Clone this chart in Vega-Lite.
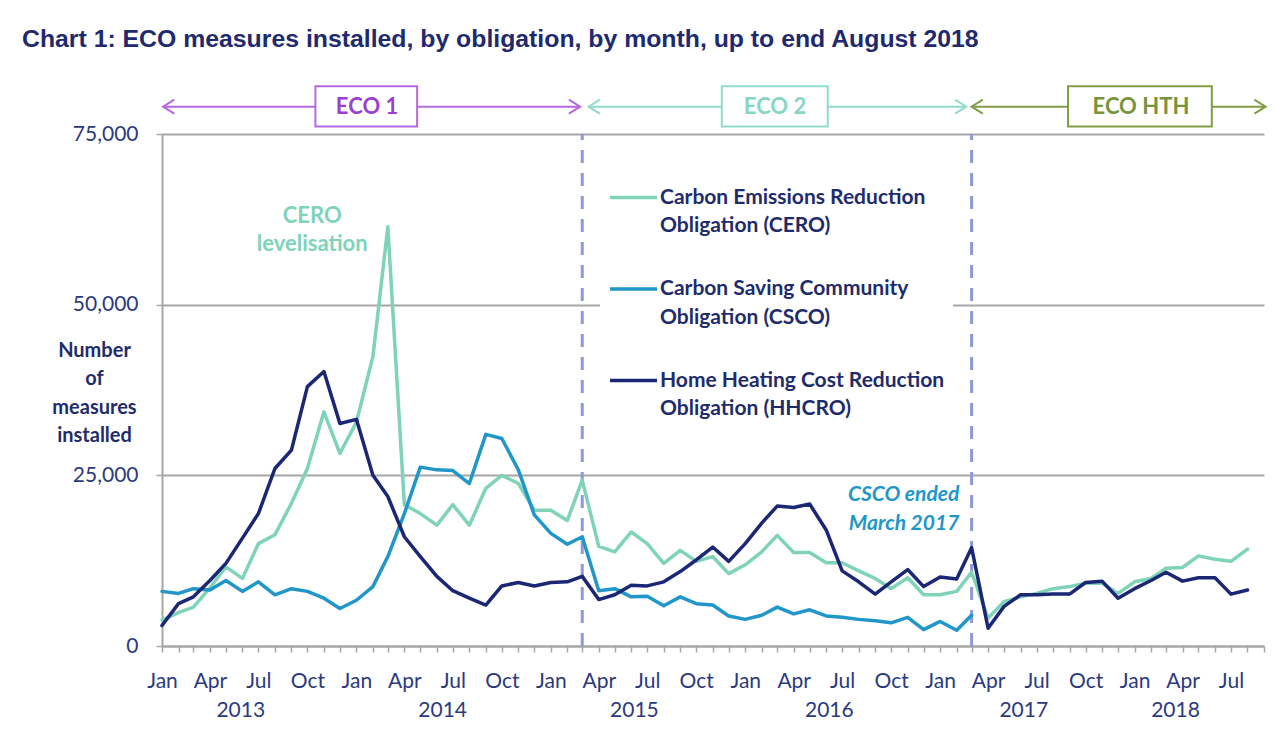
{
  "$schema": "https://vega.github.io/schema/vega-lite/v6.json",
  "width": 1102,
  "height": 512,
  "autosize": {"type": "none"},
  "padding": {"left": 162, "top": 134, "right": 10, "bottom": 101},
  "background": "white",
  "title": {
    "text": "Chart 1: ECO measures installed, by obligation, by month, up to end August 2018",
    "anchor": "start",
    "frame": "group",
    "dx": -140,
    "offset": 33,
    "font": "Liberation Sans Narrow, Liberation Sans",
    "fontSize": 24.8,
    "fontWeight": "bold",
    "color": "#1F2A6E"
  },
  "config": {
    "view": {"stroke": null},
    "font": "Lato",
    "style": {"guide-label": {"lineHeight": 28.5}}
  },
  "datasets": {
    "eco": [
      {"date": "2013-01-01", "CERO": 3800, "CSCO": 8000, "HHCRO": 3000},
      {"date": "2013-02-01", "CERO": 4900, "CSCO": 7700, "HHCRO": 6200},
      {"date": "2013-03-01", "CERO": 5700, "CSCO": 8400, "HHCRO": 7200},
      {"date": "2013-04-01", "CERO": 8500, "CSCO": 8200, "HHCRO": 9600},
      {"date": "2013-05-01", "CERO": 11600, "CSCO": 9600, "HHCRO": 12100},
      {"date": "2013-06-01", "CERO": 9900, "CSCO": 8000, "HHCRO": 15800},
      {"date": "2013-07-01", "CERO": 15000, "CSCO": 9400, "HHCRO": 19400},
      {"date": "2013-08-01", "CERO": 16300, "CSCO": 7500, "HHCRO": 26000},
      {"date": "2013-09-01", "CERO": 20900, "CSCO": 8400, "HHCRO": 28700},
      {"date": "2013-10-01", "CERO": 26000, "CSCO": 8000, "HHCRO": 38000},
      {"date": "2013-11-01", "CERO": 34300, "CSCO": 7000, "HHCRO": 40200},
      {"date": "2013-12-01", "CERO": 28200, "CSCO": 5500, "HHCRO": 32600},
      {"date": "2014-01-01", "CERO": 32800, "CSCO": 6700, "HHCRO": 33200},
      {"date": "2014-02-01", "CERO": 42400, "CSCO": 8700, "HHCRO": 25000},
      {"date": "2014-03-01", "CERO": 61400, "CSCO": 13100, "HHCRO": 21900},
      {"date": "2014-04-01", "CERO": 20700, "CSCO": 19400, "HHCRO": 16000},
      {"date": "2014-05-01", "CERO": 19400, "CSCO": 26200, "HHCRO": 13100},
      {"date": "2014-06-01", "CERO": 17700, "CSCO": 25800, "HHCRO": 10200},
      {"date": "2014-07-01", "CERO": 20700, "CSCO": 25700, "HHCRO": 8100},
      {"date": "2014-08-01", "CERO": 17700, "CSCO": 23800, "HHCRO": 7000},
      {"date": "2014-09-01", "CERO": 23100, "CSCO": 31000, "HHCRO": 6000},
      {"date": "2014-10-01", "CERO": 25000, "CSCO": 30400, "HHCRO": 8800},
      {"date": "2014-11-01", "CERO": 23800, "CSCO": 25800, "HHCRO": 9300},
      {"date": "2014-12-01", "CERO": 19900, "CSCO": 19200, "HHCRO": 8800},
      {"date": "2015-01-01", "CERO": 19900, "CSCO": 16500, "HHCRO": 9300},
      {"date": "2015-02-01", "CERO": 18400, "CSCO": 14900, "HHCRO": 9400},
      {"date": "2015-03-01", "CERO": 24300, "CSCO": 16000, "HHCRO": 10200},
      {"date": "2015-04-01", "CERO": 14600, "CSCO": 8100, "HHCRO": 6800},
      {"date": "2015-05-01", "CERO": 13800, "CSCO": 8400, "HHCRO": 7500},
      {"date": "2015-06-01", "CERO": 16700, "CSCO": 7200, "HHCRO": 8900},
      {"date": "2015-07-01", "CERO": 15000, "CSCO": 7300, "HHCRO": 8800},
      {"date": "2015-08-01", "CERO": 12100, "CSCO": 5900, "HHCRO": 9400},
      {"date": "2015-09-01", "CERO": 14000, "CSCO": 7200, "HHCRO": 10900},
      {"date": "2015-10-01", "CERO": 12400, "CSCO": 6200, "HHCRO": 12600},
      {"date": "2015-11-01", "CERO": 13100, "CSCO": 6000, "HHCRO": 14500},
      {"date": "2015-12-01", "CERO": 10600, "CSCO": 4400, "HHCRO": 12400},
      {"date": "2016-01-01", "CERO": 11900, "CSCO": 3900, "HHCRO": 15000},
      {"date": "2016-02-01", "CERO": 13800, "CSCO": 4500, "HHCRO": 18000},
      {"date": "2016-03-01", "CERO": 16200, "CSCO": 5700, "HHCRO": 20500},
      {"date": "2016-04-01", "CERO": 13700, "CSCO": 4700, "HHCRO": 20300},
      {"date": "2016-05-01", "CERO": 13700, "CSCO": 5300, "HHCRO": 20800},
      {"date": "2016-06-01", "CERO": 12200, "CSCO": 4400, "HHCRO": 17000},
      {"date": "2016-07-01", "CERO": 12200, "CSCO": 4200, "HHCRO": 11000},
      {"date": "2016-08-01", "CERO": 11000, "CSCO": 3900, "HHCRO": 9400},
      {"date": "2016-09-01", "CERO": 9900, "CSCO": 3700, "HHCRO": 7600},
      {"date": "2016-10-01", "CERO": 8400, "CSCO": 3400, "HHCRO": 9400},
      {"date": "2016-11-01", "CERO": 10000, "CSCO": 4200, "HHCRO": 11200},
      {"date": "2016-12-01", "CERO": 7500, "CSCO": 2400, "HHCRO": 8700},
      {"date": "2017-01-01", "CERO": 7500, "CSCO": 3600, "HHCRO": 10100},
      {"date": "2017-02-01", "CERO": 8000, "CSCO": 2300, "HHCRO": 9800},
      {"date": "2017-03-01", "CERO": 10800, "CSCO": 4500, "HHCRO": 14400},
      {"date": "2017-04-01", "CERO": 4100, "CSCO": null, "HHCRO": 2600},
      {"date": "2017-05-01", "CERO": 6500, "CSCO": null, "HHCRO": 5800},
      {"date": "2017-06-01", "CERO": 7200, "CSCO": null, "HHCRO": 7500},
      {"date": "2017-07-01", "CERO": 7700, "CSCO": null, "HHCRO": 7500},
      {"date": "2017-08-01", "CERO": 8400, "CSCO": null, "HHCRO": 7600},
      {"date": "2017-09-01", "CERO": 8700, "CSCO": null, "HHCRO": 7600},
      {"date": "2017-10-01", "CERO": 9200, "CSCO": null, "HHCRO": 9300},
      {"date": "2017-11-01", "CERO": 9200, "CSCO": null, "HHCRO": 9500},
      {"date": "2017-12-01", "CERO": 7700, "CSCO": null, "HHCRO": 7000},
      {"date": "2018-01-01", "CERO": 9400, "CSCO": null, "HHCRO": 8400},
      {"date": "2018-02-01", "CERO": 9900, "CSCO": null, "HHCRO": 9600},
      {"date": "2018-03-01", "CERO": 11400, "CSCO": null, "HHCRO": 10800},
      {"date": "2018-04-01", "CERO": 11500, "CSCO": null, "HHCRO": 9500},
      {"date": "2018-05-01", "CERO": 13200, "CSCO": null, "HHCRO": 10000},
      {"date": "2018-06-01", "CERO": 12700, "CSCO": null, "HHCRO": 10000},
      {"date": "2018-07-01", "CERO": 12400, "CSCO": null, "HHCRO": 7600},
      {"date": "2018-08-01", "CERO": 14200, "CSCO": null, "HHCRO": 8200}
    ],
    "periods": [
      {"period": "ECO 1", "start": "2013-01-03", "end": "2015-02-25", "boxStart": "2013-10-16", "boxEnd": "2014-04-25", "mid": "2014-01-21"},
      {"period": "ECO 2", "start": "2015-03-13", "end": "2017-02-19", "boxStart": "2015-11-18", "boxEnd": "2016-06-04", "mid": "2016-02-26"},
      {"period": "ECO HTH", "start": "2017-03-01", "end": "2018-09-04", "boxStart": "2017-08-29", "boxEnd": "2018-05-26", "mid": "2018-01-13"}
    ],
    "phaseLines": [
      {"date": "2015-03-01"},
      {"date": "2017-03-01"}
    ],
    "ceroNote": [
      {"date": "2013-10-10", "value": 63000, "note": "CERO\nlevelisation"}
    ],
    "cscoNote": [
      {"date": "2017-02-06", "value": 22100, "note": "CSCO ended\nMarch 2017"}
    ]
  },
  "layer": [
    {
      "data": {"name": "phaseLines"},
      "mark": {"type": "rule", "color": "#8E9AD8", "strokeWidth": 3, "strokeDash": [13, 10]},
      "encoding": {
        "x": {
          "field": "date", "type": "temporal",
          "axis": {
            "orient": "bottom",
            "values": [
              {"year": 2013, "month": 5, "date": 28, "utc": true},
              {"year": 2014, "month": 6, "date": 11, "utc": true},
              {"year": 2015, "month": 6, "date": 6, "utc": true},
              {"year": 2016, "month": 6, "date": 6, "utc": true},
              {"year": 2017, "month": 6, "date": 6, "utc": true},
              {"year": 2018, "month": 3, "date": 18, "utc": true}
            ],
            "labelExpr": "utcFormat(datum.value, '%Y')",
            "ticks": false, "domain": false, "grid": false, "title": null,
            "labelPadding": 53, "labelFont": "Lato", "labelFontSize": 21, "labelColor": "#2B3A7E",
            "labelOverlap": false, "labelBound": false, "labelFlush": false
          }
        },
        "y": {"datum": 0},
        "y2": {"datum": 75000}
      }
    },
    {
      "data": {"name": "eco"},
      "transform": [{"fold": ["CERO", "CSCO", "HHCRO"], "as": ["series", "value"]}],
      "mark": {"type": "line", "strokeWidth": 3.5, "strokeJoin": "round", "strokeCap": "round"},
      "encoding": {
        "x": {
          "field": "date", "type": "temporal",
          "scale": {"type": "utc", "nice": false, "domain": [{"year": 2013, "month": 1, "date": 1, "utc": true}, {"year": 2018, "month": 9, "date": 1, "utc": true}]},
          "axis": {
            "orient": "bottom",
            "tickCount": {"interval": "month", "step": 1},
            "labelExpr": "utcmonth(datum.value) % 3 == 0 ? utcFormat(datum.value, '%b') : ''",
            "labelOverlap": false, "labelBound": false, "labelFlush": false,
            "labelFont": "Lato", "labelFontSize": 21, "labelColor": "#2B3A7E", "labelPadding": 18,
            "tickColor": "#A6A6A6", "tickSize": 6, "tickWidth": 1.5,
            "domainColor": "#A6A6A6", "domainWidth": 2,
            "grid": false, "title": null
          }
        },
        "y": {
          "field": "value", "type": "quantitative",
          "scale": {"domain": [0, 75000], "nice": false},
          "axis": {
            "values": [0, 25000, 50000, 75000],
            "labelExpr": "format(datum.value, ',')",
            "labelFont": "Lato", "labelFontSize": 21, "labelColor": "#2B3A7E", "labelPadding": 18,
            "grid": true, "gridColor": "#A6A6A6", "gridWidth": 2,
            "domainColor": "#A6A6A6", "domainWidth": 2,
            "tickColor": "#A6A6A6", "tickSize": 6, "tickWidth": 1.5,
            "title": ["Number", "of", "measures", "installed"],
            "titleAngle": 0, "titleX": -68, "titleY": 216, "titleAlign": "center", "titleBaseline": "middle",
            "titleFont": "Lato", "titleFontSize": 20, "titleFontWeight": "bold", "titleColor": "#1F2C6B", "titleLineHeight": 28.5
          }
        },
        "color": {
          "field": "series", "type": "nominal",
          "scale": {"domain": ["CERO", "CSCO", "HHCRO"], "range": ["#7ED3B9", "#2196C9", "#1B2775"]},
          "legend": {
            "orient": "none", "legendX": 438, "legendY": 30,
            "title": null,
            "labelExpr": "datum.value == 'CERO' ? ['Carbon Emissions Reduction', 'Obligation (CERO)'] : datum.value == 'CSCO' ? ['Carbon Saving Community', 'Obligation (CSCO)'] : ['Home Heating Cost Reduction', 'Obligation (HHCRO)']",
            "symbolType": "stroke", "symbolSize": 2209, "symbolStrokeWidth": 3.5,
            "labelFont": "Lato", "labelFontSize": 21, "labelFontWeight": "bold", "labelColor": "#1F2C6B",
            "labelLimit": 500, "labelOffset": 1, "labelBaseline": "middle",
            "rowPadding": 27.5, "padding": 8, "fillColor": "white"
          }
        }
      }
    },
    {
      "data": {"name": "periods"},
      "mark": {"type": "rule", "strokeWidth": 2},
      "encoding": {
        "x": {"field": "start", "type": "temporal", "axis": null},
        "x2": {"field": "end"},
        "y": {"datum": 79000},
        "stroke": {"field": "period", "type": "nominal", "scale": {"domain": ["ECO 1", "ECO 2", "ECO HTH"], "range": ["#B36AE0", "#8FDCCB", "#7F9E45"]}, "legend": null}
      }
    },
    {
      "data": {"name": "periods"},
      "mark": {"type": "point", "shape": "M1.6,-1L0,0L1.6,1", "size": 196, "filled": false, "strokeWidth": 2, "opacity": 1},
      "encoding": {
        "x": {"field": "start", "type": "temporal", "axis": null},
        "y": {"datum": 79000},
        "stroke": {"field": "period", "type": "nominal", "legend": null}
      }
    },
    {
      "data": {"name": "periods"},
      "mark": {"type": "point", "shape": "M-1.6,-1L0,0L-1.6,1", "size": 196, "filled": false, "strokeWidth": 2, "opacity": 1},
      "encoding": {
        "x": {"field": "end", "type": "temporal", "axis": null},
        "y": {"datum": 79000},
        "stroke": {"field": "period", "type": "nominal", "legend": null}
      }
    },
    {
      "data": {"name": "periods"},
      "mark": {"type": "rect", "fill": "white", "strokeWidth": 2},
      "encoding": {
        "x": {"field": "boxStart", "type": "temporal", "axis": null},
        "x2": {"field": "boxEnd"},
        "y": {"datum": 82000},
        "y2": {"datum": 76100},
        "stroke": {"field": "period", "type": "nominal", "legend": null}
      }
    },
    {
      "data": {"name": "periods"},
      "mark": {"type": "text", "font": "Lato", "fontSize": 22, "fontWeight": "bold", "align": "center", "baseline": "middle"},
      "encoding": {
        "x": {"field": "mid", "type": "temporal", "axis": null},
        "y": {"datum": 79000},
        "text": {"field": "period"},
        "fill": {"field": "period", "type": "nominal", "scale": {"domain": ["ECO 1", "ECO 2", "ECO HTH"], "range": ["#9B3FD0", "#86D6C3", "#77933C"]}, "legend": null}
      }
    },
    {
      "data": {"name": "ceroNote"},
      "mark": {"type": "text", "font": "Lato", "fontSize": 22, "fontWeight": "bold", "lineBreak": "\n", "lineHeight": 28.5, "baseline": "middle", "align": "center", "color": "#7ED3B9"},
      "encoding": {
        "x": {"field": "date", "type": "temporal", "axis": null},
        "y": {"field": "value", "type": "quantitative"},
        "text": {"field": "note"}
      }
    },
    {
      "data": {"name": "cscoNote"},
      "mark": {"type": "text", "font": "Lato", "fontSize": 21, "fontWeight": "bold", "fontStyle": "italic", "lineBreak": "\n", "lineHeight": 28.5, "baseline": "middle", "align": "right", "color": "#2196C9"},
      "encoding": {
        "x": {"field": "date", "type": "temporal", "axis": null},
        "y": {"field": "value", "type": "quantitative"},
        "text": {"field": "note"}
      }
    }
  ],
  "resolve": {"axis": {"x": "independent"}, "scale": {"fill": "independent"}}
}
